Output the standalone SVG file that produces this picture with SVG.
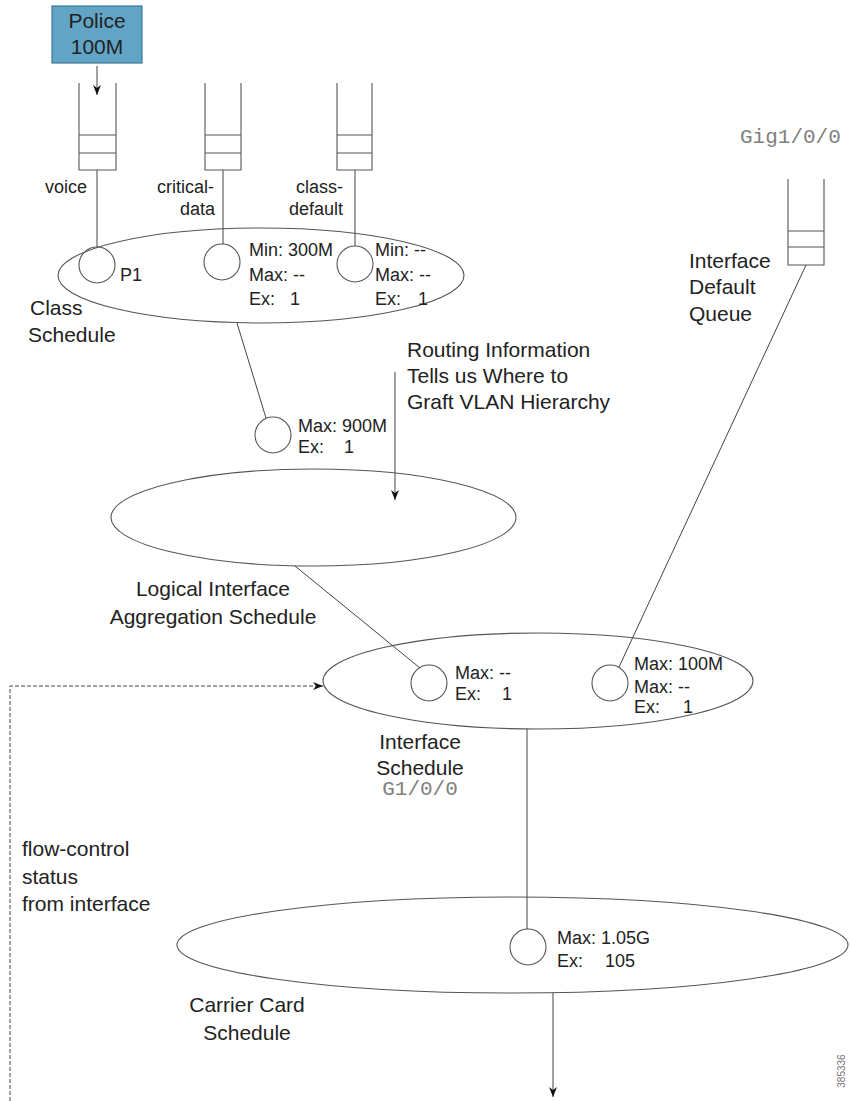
<svg xmlns="http://www.w3.org/2000/svg" width="850" height="1101" viewBox="0 0 850 1101">
<style>
  .ln{fill:none;stroke:#444;stroke-width:1}
  .sh{fill:none;stroke:#555;stroke-width:1.1}
  .t{font-family:"Liberation Sans",Arial,sans-serif;font-size:21px;fill:#222}
  .s{font-family:"Liberation Sans",Arial,sans-serif;font-size:18px;fill:#222}
  .m{font-family:"Liberation Mono","Courier New",monospace;font-size:21px;fill:#808080}
  .c{text-anchor:middle}
  .e{text-anchor:end}
</style>
<defs>
  <marker id="ah" viewBox="0 0 10 10" refX="10" refY="5" markerWidth="10" markerHeight="10" markerUnits="userSpaceOnUse" orient="auto">
    <path d="M0,1 L10,5 L0,9 L3,5 Z" fill="#111"/>
  </marker>
</defs>
<rect width="850" height="1101" fill="#fff"/>

<g id="police">
  <rect x="52" y="6" width="90" height="57" fill="#62a4c6" stroke="#3d7896" stroke-width="1.2"/>
  <text class="t c" x="97" y="28" fill="#1b3444">Police</text>
  <text class="t c" x="97" y="54" fill="#1b3444">100M</text>
</g>

<g id="queue-voice">
  <path class="sh" d="M79,83 V170 H116 V83 M79,135 H116 M79,153 H116"/>
  <text class="s" x="45" y="193">voice</text>
</g>
<g id="queue-critical">
  <path class="sh" d="M205,83 V170 H241 V83 M205,135 H241 M205,153 H241"/>
  <text class="s e" x="214" y="193">critical-</text>
  <text class="s e" x="215" y="215">data</text>
</g>
<g id="queue-default">
  <path class="sh" d="M337,83 V170 H372 V83 M337,135 H372 M337,153 H372"/>
  <text class="s e" x="343" y="193">class-</text>
  <text class="s e" x="343" y="215">default</text>
</g>

<g id="class-schedule">
  <ellipse class="sh" cx="261" cy="275.5" rx="203" ry="47.5"/>
  <text class="t" x="30" y="315">Class</text>
  <text class="t" x="28" y="342">Schedule</text>
</g>
<g id="sched-voice">
  <circle class="sh" cx="97" cy="265" r="18"/>
  <text class="s" x="120" y="281">P1</text>
</g>
<g id="sched-critical">
  <circle class="sh" cx="222" cy="262" r="18"/>
  <text class="s" x="249" y="256">Min: 300M</text>
  <text class="s" x="249" y="281">Max: --</text>
  <text class="s" x="249" y="305">Ex: <tspan x="290">1</tspan></text>
</g>
<g id="sched-default">
  <circle class="sh" cx="355" cy="264" r="18"/>
  <text class="s" x="375" y="256">Min: --</text>
  <text class="s" x="375" y="281">Max: --</text>
  <text class="s" x="375" y="305">Ex: <tspan x="418">1</tspan></text>
</g>

<g id="queue-interface">
  <text class="m" x="740" y="143">Gig1/0/0</text>
  <path class="sh" d="M788,179 V265 H824 V179 M788,231 H824 M788,247 H824"/>
  <text class="t" x="689" y="268">Interface</text>
  <text class="t" x="689" y="294">Default</text>
  <text class="t" x="689" y="321">Queue</text>
</g>

<g id="routing-note">
  <text class="t" x="407" y="357">Routing Information</text>
  <text class="t" x="407" y="383">Tells us Where to</text>
  <text class="t" x="407" y="409">Graft VLAN Hierarchy</text>
</g>

<g id="sched-vlan">
  <circle class="sh" cx="273" cy="435" r="18"/>
  <text class="s" x="298" y="432">Max: 900M</text>
  <text class="s" x="298" y="453">Ex: <tspan x="344">1</tspan></text>
</g>

<g id="logical-interface-schedule">
  <ellipse class="sh" cx="313.5" cy="517.5" rx="202.5" ry="48.5"/>
  <text class="t c" x="213" y="596">Logical Interface</text>
  <text class="t c" x="213" y="624">Aggregation Schedule</text>
</g>

<g id="interface-schedule">
  <ellipse class="sh" cx="538" cy="681" rx="215" ry="48"/>
  <text class="t c" x="420" y="749">Interface</text>
  <text class="t c" x="420" y="775">Schedule</text>
  <text class="m c" x="420" y="795">G1/0/0</text>
</g>
<g id="sched-logical">
  <circle class="sh" cx="429" cy="683" r="18"/>
  <text class="s" x="455" y="679">Max: --</text>
  <text class="s" x="455" y="700">Ex: <tspan x="502">1</tspan></text>
</g>
<g id="sched-default-queue">
  <circle class="sh" cx="610" cy="683" r="18"/>
  <text class="s" x="634" y="670">Max: 100M</text>
  <text class="s" x="634" y="693">Max: --</text>
  <text class="s" x="634" y="713">Ex: <tspan x="683">1</tspan></text>
</g>

<g id="flow-control">
  <text class="t" x="22" y="856">flow-control</text>
  <text class="t" x="22" y="884">status</text>
  <text class="t" x="22" y="911">from interface</text>
</g>

<g id="carrier-card-schedule">
  <ellipse class="sh" cx="512.5" cy="945" rx="335.5" ry="48"/>
  <text class="t c" x="247" y="1012">Carrier Card</text>
  <text class="t c" x="247" y="1040">Schedule</text>
</g>
<g id="sched-interface">
  <circle class="sh" cx="528" cy="947" r="18"/>
  <text class="s" x="557" y="944">Max: 1.05G</text>
  <text class="s" x="557" y="967">Ex: <tspan x="605">105</tspan></text>
</g>

<g id="figure-number">
  <text x="845" y="1071" transform="rotate(-90 845 1071)" text-anchor="middle" font-family="Liberation Sans, Arial, sans-serif" font-size="10" fill="#777">385336</text>
</g>

<g id="connectors">
  <line class="ln" x1="97" y1="66" x2="97" y2="95" marker-end="url(#ah)"/>
  <line class="ln" x1="97" y1="170" x2="97" y2="247"/>
  <line class="ln" x1="223" y1="170" x2="223" y2="244"/>
  <line class="ln" x1="355" y1="170" x2="355" y2="246"/>
  <line class="ln" x1="237" y1="323" x2="266" y2="418"/>
  <line class="ln" x1="395" y1="372" x2="395" y2="500" marker-end="url(#ah)"/>
  <line class="ln" x1="295" y1="566" x2="420" y2="668"/>
  <line class="ln" x1="806" y1="265" x2="619" y2="667"/>
  <line class="ln" x1="527" y1="729" x2="527" y2="929"/>
  <line class="ln" x1="553" y1="993" x2="553" y2="1097" marker-end="url(#ah)"/>
  <path class="ln" d="M10,1101 V686 H323" stroke-dasharray="4 2" marker-end="url(#ah)"/>
</g>
</svg>
